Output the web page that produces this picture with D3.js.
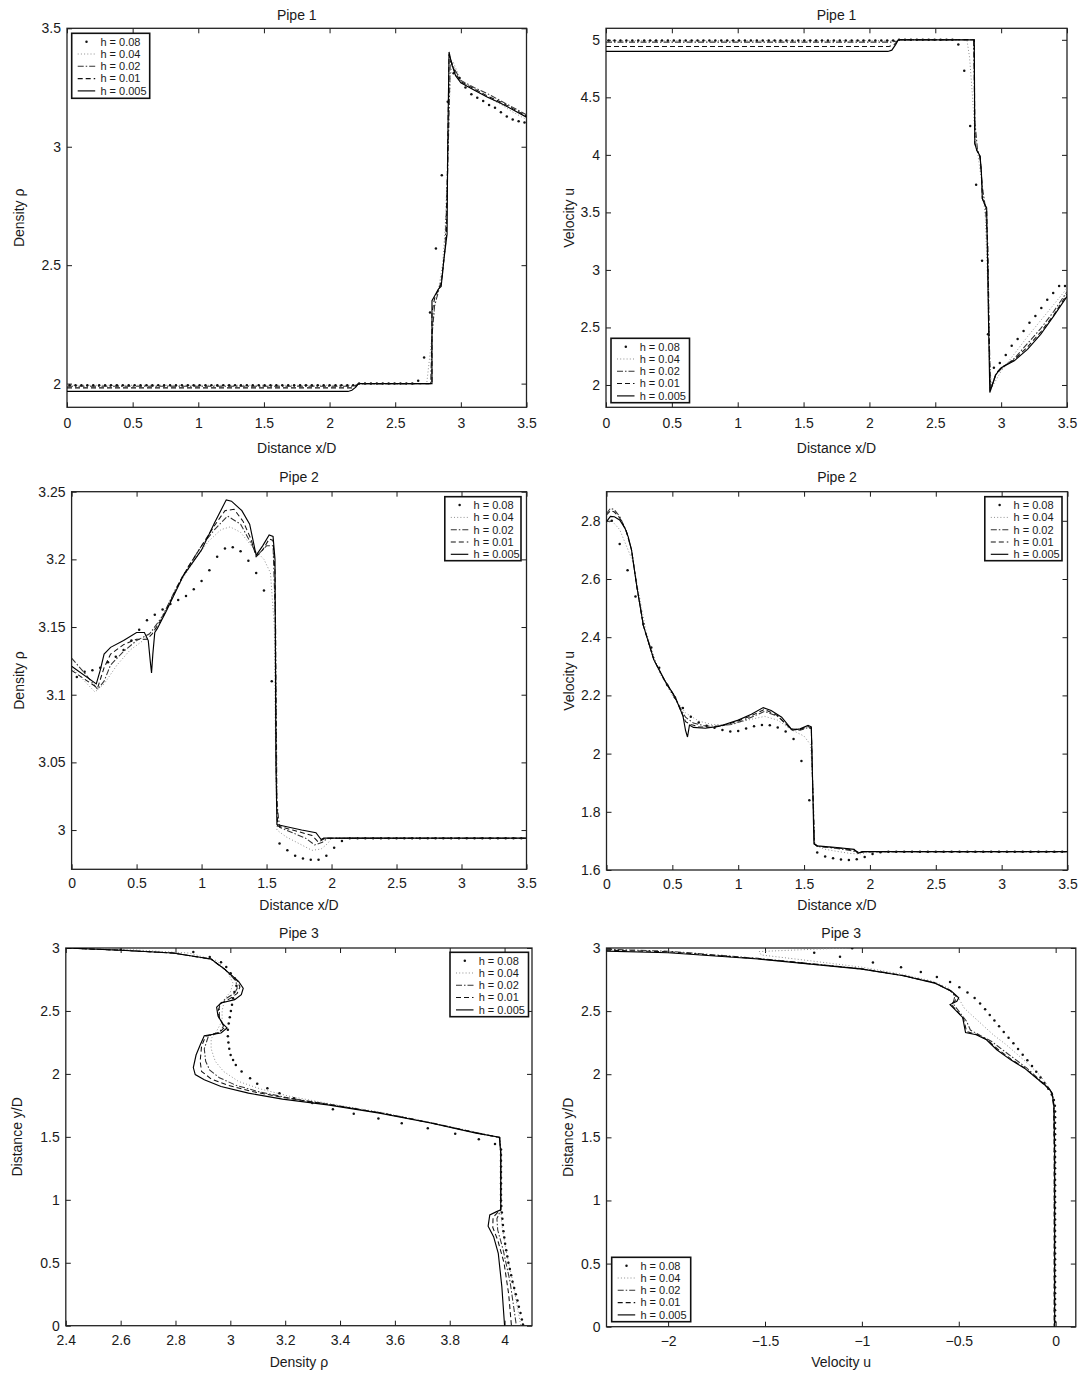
<!DOCTYPE html>
<html>
<head>
<meta charset="utf-8">
<script src="https://cdn.jsdelivr.net/npm/d3@7"></script>
<style>
body{margin:0;background:#fff}
svg text{font-family:"Liberation Sans",Arial,Helvetica,sans-serif}
</style>
</head>
<body>
<svg id="chart" width="1079" height="1373"></svg>
<script>

let legendLabels = ['h = 0.08', 'h = 0.04', 'h = 0.02', 'h = 0.01', 'h = 0.005']

let distTicks = [0, 0.5, 1, 1.5, 2, 2.5, 3, 3.5]
let p1RhoTicks = [2, 2.5, 3, 3.5]
let p1VelTicks = [2, 2.5, 3, 3.5, 4, 4.5, 5]
let p2RhoTicks = [3, 3.05, 3.1, 3.15, 3.2, 3.25]
let p2VelTicks = [1.6, 1.8, 2, 2.2, 2.4, 2.6, 2.8]
let p3DistTicks = [0, 0.5, 1, 1.5, 2, 2.5, 3]
let p3RhoTicks = [2.4, 2.6, 2.8, 3, 3.2, 3.4, 3.6, 3.8, 4]
let p3VelTicks = [-2, -1.5, -1, -0.5, 0]

// pipe 1, h = 0.08 markers
let pipe1DotX = [0.02,0.065,0.11,0.155,0.2,0.245,0.29,0.335,0.38,0.425,
	0.47,0.515,0.56,0.605,0.65,0.695,0.74,0.785,0.83,0.875,
	0.92,0.965,1.01,1.055,1.1,1.145,1.19,1.235,1.28,1.325,
	1.37,1.415,1.46,1.505,1.55,1.595,1.64,1.685,1.73,1.775,
	1.82,1.865,1.91,1.955,2.0,2.045,2.09,2.135,2.18,
	2.225,2.27,2.315,2.36,2.405,2.45,2.495,2.54,2.585,2.63,
	2.675,2.72,2.765,2.81,2.855,2.9,2.945,2.99,3.035,3.08,3.125,3.17,3.215,3.26,3.305,3.35,3.395,3.44,3.485]
let pipe1RhoDots = [1.993,1.993,1.993,1.993,1.993,1.993,1.993,1.993,1.993,1.993,
	1.993,1.993,1.993,1.993,1.993,1.993,1.993,1.993,1.993,1.993,
	1.993,1.993,1.993,1.993,1.993,1.993,1.993,1.993,1.993,1.993,
	1.993,1.993,1.993,1.993,1.993,1.993,1.993,1.993,1.993,1.993,
	1.993,1.993,1.993,1.993,1.993,1.993,1.993,1.993,1.993,
	2.0,2.0,2.0,2.0,2.0,2.0,2.0,2.0,2.0,2.0,
	2.012,2.11,2.3,2.57,2.88,3.19,3.31,3.29,3.25,3.222,3.207,3.193,3.176,3.165,3.146,3.128,3.115,3.108,3.102]
let pipe1VelDots = [4.993,4.993,4.993,4.993,4.993,4.993,4.993,4.993,4.993,4.993,
	4.993,4.993,4.993,4.993,4.993,4.993,4.993,4.993,4.993,4.993,
	4.993,4.993,4.993,4.993,4.993,4.993,4.993,4.993,4.993,4.993,
	4.993,4.993,4.993,4.993,4.993,4.993,4.993,4.993,4.993,4.993,
	4.993,4.993,4.993,4.993,4.993,4.993,4.993,4.993,4.993,
	5.0,5.0,5.0,5.0,5.0,5.0,5.0,5.0,5.0,5.0,
	4.96,4.73,4.25,3.74,3.08,2.44,2.15,2.19,2.26,2.34,2.4,2.47,2.54,2.6,2.67,2.74,2.8,2.86,2.86]

let p1RhoH04 = [[0,1.993],[2.2,1.993],[2.24,2.0],[2.74,2.0],[2.76,2.1],[2.78,2.2],[2.8,2.32],[2.83,2.4],[2.86,2.5],[2.88,2.65],[2.9,2.95],[2.92,3.3],[2.94,3.36],[2.97,3.32],[3.0,3.28],[3.1,3.24],[3.2,3.21],[3.3,3.18],[3.4,3.145],[3.5,3.115]]
let p1RhoH02 = [[0,1.989],[2.18,1.989],[2.21,1.995],[2.23,2.0],[2.77,2.0],[2.78,2.2],[2.8,2.33],[2.83,2.39],[2.86,2.46],[2.88,2.58],[2.9,2.9],[2.92,3.37],[2.95,3.33],[3.0,3.28],[3.1,3.25],[3.2,3.225],[3.3,3.195],[3.4,3.165],[3.5,3.135]]
let p1RhoH01 = [[0,1.982],[2.17,1.982],[2.2,1.99],[2.22,2.0],[2.78,2.0],[2.78,2.3],[2.8,2.36],[2.83,2.4],[2.85,2.42],[2.87,2.52],[2.89,2.62],[2.9,3.0],[2.91,3.39],[2.93,3.35],[2.96,3.31],[3.0,3.275],[3.1,3.245],[3.2,3.215],[3.3,3.19],[3.4,3.16],[3.5,3.13]]
let p1RhoH005 = [[0,1.967],[2.14,1.967],[2.17,1.972],[2.2,1.985],[2.22,2.0],[2.78,2.0],[2.78,2.35],[2.8,2.37],[2.83,2.4],[2.85,2.41],[2.87,2.52],[2.89,2.61],[2.895,2.63],[2.9,3.0],[2.91,3.4],[2.93,3.35],[2.96,3.3],[3.0,3.27],[3.1,3.24],[3.2,3.21],[3.3,3.185],[3.4,3.155],[3.5,3.125]]

let p1VelH04 = [[0,4.993],[2.2,4.993],[2.24,5.0],[2.74,5.0],[2.76,4.85],[2.78,4.55],[2.8,4.2],[2.83,3.95],[2.86,3.7],[2.88,3.45],[2.9,2.8],[2.91,2.2],[2.93,1.98],[3.0,2.12],[3.1,2.27],[3.2,2.42],[3.3,2.56],[3.4,2.7],[3.5,2.84]]
let p1VelH02 = [[0,4.98],[2.17,4.98],[2.21,4.99],[2.23,5.0],[2.79,5.0],[2.8,4.3],[2.82,4.05],[2.84,3.97],[2.86,3.7],[2.88,3.55],[2.9,3.2],[2.91,2.4],[2.92,1.97],[2.96,2.09],[3.0,2.14],[3.1,2.23],[3.2,2.36],[3.3,2.49],[3.4,2.64],[3.5,2.81]]
let p1VelH01 = [[0,4.942],[2.15,4.942],[2.19,4.96],[2.22,5.0],[2.796,5.0],[2.8,4.1],[2.815,4.04],[2.84,3.99],[2.85,3.85],[2.857,3.62],[2.875,3.57],[2.89,3.53],[2.9,3.0],[2.91,2.3],[2.918,1.95],[2.96,2.1],[3.0,2.15],[3.1,2.22],[3.2,2.33],[3.3,2.46],[3.4,2.61],[3.5,2.79]]
let p1VelH005 = [[0,4.899],[2.14,4.899],[2.17,4.91],[2.2,4.96],[2.22,5.0],[2.796,5.0],[2.8,4.1],[2.815,4.04],[2.84,3.99],[2.85,3.85],[2.857,3.62],[2.875,3.57],[2.89,3.54],[2.895,3.2],[2.905,2.5],[2.914,1.935],[2.96,2.09],[3.0,2.15],[3.1,2.21],[3.2,2.31],[3.3,2.44],[3.4,2.6],[3.5,2.77]]

// pipe 2, h = 0.08 markers
let pipe2DotX = [0.04,0.1,0.16,0.22,0.28,0.34,0.4,0.46,0.52,0.58,
	0.64,0.7,0.76,0.82,0.88,0.94,1,1.06,1.12,1.18,
	1.24,1.3,1.36,1.42,1.48,1.54,1.6,1.66,1.72,1.78,
	1.84,1.9,1.96,2.02,2.08,
	2.14,2.2,2.26,2.32,2.38,2.44,2.5,2.56,2.62,2.68,
	2.74,2.8,2.86,2.92,2.98,3.04,3.1,3.16,3.22,3.28,
	3.34,3.4,3.46]
let pipe2RhoDots = [3.113,3.117,3.118,3.12,3.124,3.128,3.133,3.14,3.148,3.155,
	3.159,3.163,3.167,3.17,3.173,3.178,3.184,3.192,3.202,3.208,
	3.209,3.206,3.199,3.19,3.177,3.11,2.99,2.985,2.981,2.979,
	2.978,2.978,2.981,2.987,2.992,
	2.994,2.994,2.994,2.994,2.994,2.994,2.994,2.994,2.994,2.994,
	2.994,2.994,2.994,2.994,2.994,2.994,2.994,2.994,2.994,2.994,
	2.994,2.994,2.994]
let pipe2VelDots = [2.8,2.72,2.63,2.54,2.445,2.365,2.295,2.237,2.193,2.157,
	2.127,2.107,2.096,2.089,2.081,2.076,2.078,2.086,2.094,2.098,
	2.097,2.09,2.076,2.05,1.975,1.84,1.66,1.646,1.64,1.636,
	1.634,1.637,1.645,1.655,1.661,
	1.663,1.663,1.663,1.663,1.663,1.663,1.663,1.663,1.663,1.663,
	1.663,1.663,1.663,1.663,1.663,1.663,1.663,1.663,1.663,1.663,
	1.663,1.663,1.663]

let p2RhoH04 = [[0,3.12],[0.1,3.11],[0.18,3.102],[0.25,3.108],[0.35,3.122],[0.45,3.133],[0.55,3.14],[0.65,3.15],[0.75,3.168],[0.85,3.185],[0.95,3.2],[1.05,3.213],[1.15,3.222],[1.22,3.224],[1.3,3.22],[1.4,3.208],[1.48,3.2],[1.53,3.19],[1.56,3.15],[1.57,3.05],[1.58,3.0],[1.65,2.995],[1.75,2.99],[1.85,2.985],[1.92,2.986],[1.97,2.99],[2.0,2.994],[3.5,2.994]]
let p2RhoH02 = [[0,3.127],[0.1,3.116],[0.2,3.104],[0.25,3.11],[0.3,3.122],[0.4,3.132],[0.5,3.14],[0.6,3.145],[0.7,3.158],[0.8,3.178],[0.9,3.195],[1.0,3.21],[1.1,3.222],[1.2,3.232],[1.3,3.226],[1.38,3.212],[1.43,3.203],[1.5,3.21],[1.55,3.21],[1.57,3.15],[1.58,3.02],[1.6,3.002],[1.7,2.998],[1.8,2.994],[1.87,2.989],[1.93,2.991],[1.97,2.994],[3.5,2.994]]
let p2RhoH01 = [[0,3.118],[0.2,3.105],[0.25,3.12],[0.3,3.13],[0.4,3.137],[0.5,3.141],[0.58,3.141],[0.62,3.145],[0.7,3.157],[0.85,3.187],[1.0,3.21],[1.1,3.225],[1.18,3.236],[1.25,3.237],[1.32,3.228],[1.38,3.215],[1.42,3.202],[1.47,3.207],[1.52,3.215],[1.55,3.214],[1.565,3.19],[1.575,3.04],[1.585,3.003],[1.7,3.0],[1.85,2.996],[1.9,2.991],[1.95,2.994],[3.5,2.994]]
let p2RhoH005 = [[0,3.121],[0.19,3.108],[0.22,3.118],[0.25,3.13],[0.3,3.135],[0.4,3.14],[0.5,3.146],[0.56,3.146],[0.59,3.14],[0.605,3.125],[0.615,3.116],[0.625,3.13],[0.64,3.146],[0.66,3.149],[0.73,3.162],[0.86,3.188],[1.0,3.207],[1.1,3.227],[1.19,3.244],[1.23,3.243],[1.31,3.236],[1.37,3.226],[1.42,3.203],[1.47,3.21],[1.52,3.218],[1.55,3.217],[1.565,3.2],[1.572,3.05],[1.58,3.004],[1.63,3.003],[1.77,3.0],[1.88,2.998],[1.92,2.993],[1.94,2.994],[3.5,2.994]]

let p2VelH04 = [[0,2.79],[0.04,2.8],[0.1,2.77],[0.2,2.66],[0.3,2.42],[0.4,2.28],[0.5,2.2],[0.6,2.14],[0.7,2.112],[0.8,2.1],[0.9,2.1],[1.0,2.107],[1.1,2.118],[1.2,2.128],[1.3,2.115],[1.4,2.083],[1.5,2.06],[1.55,2.03],[1.57,1.85],[1.58,1.69],[1.65,1.672],[1.75,1.664],[1.85,1.657],[1.92,1.655],[1.98,1.66],[2.05,1.663],[3.5,1.663]]
let p2VelH02 = [[0,2.825],[0.03,2.843],[0.06,2.838],[0.1,2.815],[0.15,2.765],[0.19,2.7],[0.23,2.575],[0.28,2.44],[0.36,2.322],[0.44,2.253],[0.52,2.19],[0.6,2.125],[0.66,2.105],[0.75,2.095],[0.85,2.095],[0.95,2.1],[1.05,2.115],[1.2,2.145],[1.3,2.128],[1.4,2.085],[1.47,2.08],[1.53,2.09],[1.555,2.085],[1.565,1.9],[1.58,1.69],[1.6,1.681],[1.75,1.674],[1.85,1.667],[1.92,1.66],[1.97,1.663],[3.5,1.663]]
let p2VelH01 = [[0,2.82],[0.03,2.835],[0.06,2.83],[0.1,2.81],[0.15,2.765],[0.19,2.7],[0.23,2.575],[0.28,2.44],[0.36,2.322],[0.44,2.253],[0.52,2.195],[0.6,2.11],[0.64,2.1],[0.7,2.092],[0.8,2.09],[0.9,2.098],[1.0,2.112],[1.1,2.13],[1.2,2.152],[1.3,2.13],[1.4,2.085],[1.47,2.083],[1.53,2.093],[1.555,2.088],[1.565,1.9],[1.578,1.69],[1.6,1.682],[1.75,1.676],[1.88,1.669],[1.92,1.659],[1.96,1.663],[3.5,1.663]]
let p2VelH005 = [[0,2.797],[0.03,2.815],[0.06,2.814],[0.1,2.803],[0.14,2.775],[0.165,2.745],[0.19,2.7],[0.23,2.575],[0.28,2.44],[0.36,2.322],[0.44,2.253],[0.52,2.195],[0.58,2.13],[0.6,2.08],[0.615,2.057],[0.63,2.098],[0.66,2.09],[0.75,2.087],[0.85,2.093],[1.0,2.115],[1.1,2.135],[1.19,2.158],[1.25,2.148],[1.33,2.125],[1.41,2.081],[1.47,2.085],[1.53,2.097],[1.555,2.092],[1.565,1.9],[1.575,1.69],[1.6,1.683],[1.73,1.678],[1.88,1.671],[1.91,1.657],[1.94,1.663],[3.5,1.663]]

// pipe 3: pairs are [value, y/D]
let p3RhoH08 = [[2.6,2.987],[2.865,2.968],[2.925,2.928],[2.966,2.886],[2.985,2.849],[3.001,2.8],[3.016,2.76],[3.022,2.7],[3.015,2.65],[3.01,2.6],[3.006,2.55],[3.002,2.5],[2.998,2.45],[2.994,2.4],[2.991,2.35],[2.991,2.3],[2.993,2.25],[2.996,2.2],[3.001,2.15],[3.01,2.11],[3.02,2.07],[3.041,2.02],[3.072,1.966],[3.098,1.921],[3.135,1.887],[3.179,1.847],[3.232,1.807],[3.299,1.768],[3.374,1.72],[3.45,1.683],[3.54,1.645],[3.625,1.609],[3.72,1.569],[3.82,1.524],[3.906,1.481],[3.965,1.444],
	[3.987,1.4],[3.987,1.355],[3.987,1.31],[3.987,1.265],[3.987,1.22],[3.987,1.175],[3.987,1.13],[3.987,1.085],[3.987,1.04],[3.987,0.995],[3.988,0.95],
	[3.99,0.9],[3.992,0.85],[3.994,0.8],[3.996,0.75],[3.999,0.7],[4.002,0.65],[4.006,0.6],[4.01,0.55],[4.014,0.5],[4.019,0.45],[4.024,0.4],[4.029,0.35],[4.035,0.3],[4.041,0.25],[4.047,0.2],[4.052,0.15],[4.058,0.1],[4.063,0.05],[4.067,0.01]]
let p3RhoH04 = [[2.4,3.0],[2.65,2.985],[2.85,2.96],[2.95,2.9],[2.99,2.81],[3.01,2.72],[3.0,2.65],[2.98,2.6],[2.97,2.5],[2.97,2.42],[2.95,2.34],[2.93,2.28],[2.93,2.2],[2.945,2.1],[2.975,2.02],[3.03,1.94],[3.11,1.88],[3.22,1.82],[3.37,1.76],[3.55,1.695],[3.73,1.615],[3.9,1.535],[3.984,1.49],[3.987,1.37],[3.987,0.9],[3.99,0.8],[4.005,0.6],[4.03,0.35],[4.059,0]]
let p3RhoH02 = [[2.4,3.0],[2.6,2.983],[2.79,2.961],[2.93,2.91],[2.98,2.83],[3.02,2.74],[3.025,2.68],[3.015,2.64],[2.985,2.6],[2.96,2.55],[2.96,2.45],[2.975,2.38],[2.96,2.33],[2.92,2.3],[2.905,2.2],[2.91,2.1],[2.925,2.03],[2.96,1.97],[3.02,1.91],[3.1,1.86],[3.21,1.81],[3.36,1.758],[3.55,1.69],[3.73,1.612],[3.9,1.532],[3.983,1.495],[3.986,1.37],[3.986,0.92],[3.98,0.89],[3.972,0.85],[3.975,0.76],[3.995,0.6],[4.02,0.35],[4.043,0]]
let p3RhoH01 = [[2.4,3.0],[2.6,2.982],[2.79,2.96],[2.93,2.912],[2.98,2.83],[3.025,2.74],[3.035,2.69],[3.025,2.64],[3.0,2.6],[2.965,2.56],[2.955,2.5],[2.96,2.44],[2.98,2.37],[2.96,2.33],[2.91,2.3],[2.895,2.22],[2.89,2.1],[2.895,2.02],[2.93,1.96],[2.99,1.91],[3.08,1.86],[3.2,1.81],[3.36,1.757],[3.55,1.69],[3.73,1.612],[3.9,1.53],[3.982,1.495],[3.986,1.37],[3.986,0.92],[3.975,0.9],[3.958,0.86],[3.957,0.78],[3.975,0.68],[3.998,0.5],[4.015,0.25],[4.025,0]]
let p3RhoH005 = [[2.4,3.0],[2.6,2.982],[2.79,2.96],[2.93,2.913],[2.98,2.83],[3.03,2.735],[3.047,2.68],[3.04,2.63],[3.016,2.59],[2.966,2.563],[2.95,2.53],[2.955,2.46],[2.972,2.4],[2.988,2.365],[2.966,2.325],[2.905,2.303],[2.89,2.23],[2.875,2.15],[2.865,2.05],[2.872,1.995],[2.905,1.953],[2.966,1.9],[3.066,1.847],[3.19,1.8],[3.355,1.754],[3.544,1.688],[3.73,1.61],[3.896,1.53],[3.981,1.497],[3.986,1.37],[3.986,0.92],[3.971,0.906],[3.946,0.88],[3.94,0.79],[3.96,0.707],[3.977,0.575],[3.99,0.31],[4.0,0]]

let p3VelH08 = [[-1.05,2.998],[-1.246,2.963],[-1.113,2.93],[-0.943,2.886],[-0.798,2.847],[-0.696,2.81],[-0.613,2.77],[-0.545,2.73],[-0.497,2.69],[-0.455,2.648],[-0.418,2.603],[-0.39,2.56],[-0.364,2.515],[-0.34,2.47],[-0.316,2.425],[-0.292,2.38],[-0.268,2.335],[-0.243,2.29],[-0.218,2.245],[-0.194,2.2],[-0.17,2.155],[-0.146,2.11],[-0.122,2.065],[-0.1,2.02],[-0.078,1.975],[-0.058,1.93],[-0.038,1.885],[-0.02,1.84],[-0.009,1.795],[-0.004,1.75],
	[-0.003,1.705],[-0.003,1.66],[-0.003,1.615],[-0.003,1.57],[-0.003,1.525],[-0.003,1.48],[-0.003,1.435],[-0.003,1.39],[-0.003,1.345],[-0.003,1.3],
	[-0.003,1.255],[-0.003,1.21],[-0.003,1.165],[-0.003,1.12],[-0.003,1.075],[-0.003,1.03],[-0.003,0.985],[-0.003,0.94],[-0.003,0.895],[-0.003,0.85],
	[-0.003,0.805],[-0.003,0.76],[-0.003,0.715],[-0.003,0.67],[-0.003,0.625],[-0.003,0.58],[-0.003,0.535],[-0.003,0.49],[-0.003,0.445],[-0.003,0.4],
	[-0.003,0.355],[-0.003,0.31],[-0.003,0.265],[-0.003,0.22],[-0.003,0.175],[-0.003,0.13],[-0.003,0.085],[-0.003,0.04]]
let p3VelH04 = [[-1.08,3.0],[-1.25,2.99],[-1.53,2.972],[-1.52,2.945],[-1.3,2.905],[-1.0,2.848],[-0.786,2.79],[-0.63,2.735],[-0.55,2.68],[-0.5,2.6],[-0.47,2.52],[-0.42,2.45],[-0.37,2.38],[-0.32,2.31],[-0.26,2.24],[-0.2,2.16],[-0.14,2.08],[-0.08,1.99],[-0.04,1.91],[-0.015,1.84],[-0.006,1.74],[-0.004,1.37],[-0.004,0]]
let p3VelH02 = [[-2.32,2.99],[-2.0,2.975],[-1.536,2.918],[-1.0,2.836],[-0.786,2.782],[-0.625,2.726],[-0.545,2.665],[-0.52,2.62],[-0.525,2.59],[-0.53,2.56],[-0.5,2.5],[-0.46,2.42],[-0.44,2.35],[-0.38,2.3],[-0.33,2.26],[-0.28,2.2],[-0.21,2.12],[-0.15,2.05],[-0.085,1.96],[-0.035,1.89],[-0.015,1.84],[-0.008,1.74],[-0.006,1.37],[-0.006,0]]
let p3VelH01 = [[-2.32,2.983],[-2.0,2.97],[-1.536,2.915],[-1.0,2.834],[-0.786,2.781],[-0.625,2.724],[-0.54,2.66],[-0.51,2.61],[-0.52,2.58],[-0.54,2.555],[-0.52,2.52],[-0.475,2.44],[-0.46,2.34],[-0.4,2.31],[-0.35,2.27],[-0.3,2.2],[-0.23,2.12],[-0.16,2.05],[-0.09,1.96],[-0.04,1.89],[-0.02,1.85],[-0.01,1.74],[-0.008,1.37],[-0.008,0]]
let p3VelH005 = [[-2.32,2.975],[-2.0,2.962],[-1.536,2.913],[-1.0,2.833],[-0.786,2.78],[-0.625,2.722],[-0.536,2.656],[-0.5,2.605],[-0.51,2.578],[-0.545,2.552],[-0.527,2.524],[-0.48,2.45],[-0.465,2.33],[-0.41,2.313],[-0.357,2.273],[-0.304,2.194],[-0.232,2.114],[-0.161,2.048],[-0.089,1.956],[-0.036,1.89],[-0.018,1.85],[-0.009,1.744],[-0.005,1.374],[-0.005,0]]

let panels = [
	{title: 'Pipe 1', xLabel: 'Distance x/D', yLabel: 'Density \u03c1', xDomain: [0, 3.5], yDomain: [1.9, 3.5],
		xTicks: distTicks, yTicks: p1RhoTicks, dots: d3.zip(pipe1DotX, pipe1RhoDots), lines: [p1RhoH04, p1RhoH02, p1RhoH01, p1RhoH005]},
	{title: 'Pipe 1', xLabel: 'Distance x/D', yLabel: 'Velocity u', xDomain: [0, 3.5], yDomain: [1.806, 5.1],
		xTicks: distTicks, yTicks: p1VelTicks, dots: d3.zip(pipe1DotX, pipe1VelDots), lines: [p1VelH04, p1VelH02, p1VelH01, p1VelH005]},
	{title: 'Pipe 2', xLabel: 'Distance x/D', yLabel: 'Density \u03c1', xDomain: [0, 3.5], yDomain: [2.971, 3.25],
		xTicks: distTicks, yTicks: p2RhoTicks, dots: d3.zip(pipe2DotX, pipe2RhoDots), lines: [p2RhoH04, p2RhoH02, p2RhoH01, p2RhoH005]},
	{title: 'Pipe 2', xLabel: 'Distance x/D', yLabel: 'Velocity u', xDomain: [0, 3.5], yDomain: [1.6, 2.9],
		xTicks: distTicks, yTicks: p2VelTicks, dots: d3.zip(pipe2DotX, pipe2VelDots), lines: [p2VelH04, p2VelH02, p2VelH01, p2VelH005]},
	{title: 'Pipe 3', xLabel: 'Density \u03c1', yLabel: 'Distance y/D', xDomain: [2.4, 4.1], yDomain: [0, 3],
		xTicks: p3RhoTicks, yTicks: p3DistTicks, dots: p3RhoH08, lines: [p3RhoH04, p3RhoH02, p3RhoH01, p3RhoH005]},
	{title: 'Pipe 3', xLabel: 'Velocity u', yLabel: 'Distance y/D', xDomain: [-2.318, 0.104], yDomain: [0, 3],
		xTicks: p3VelTicks, yTicks: p3DistTicks, dots: p3VelH08, lines: [p3VelH04, p3VelH02, p3VelH01, p3VelH005]}
]

// frame boxes, label rows and legend boxes in pixels
let layout = [
	{left: 67, right: 526.5, top: 28.3, bottom: 407.3, titleY: 15, tickY: 11, xLabelY: 448, yLabelX: 19, legend: [71.7, 33.3, 78, 65]},
	{left: 606, right: 1067, top: 28.3, bottom: 407.3, titleY: 15, tickY: 11, xLabelY: 448, yLabelX: 569, legend: [611, 338.3, 78.5, 64.4]},
	{left: 71.6, right: 526.5, top: 491.7, bottom: 869.3, titleY: 477.3, tickY: 9, xLabelY: 905, yLabelX: 19, legend: [444.8, 496.7, 76.2, 64]},
	{left: 606.5, right: 1067.5, top: 491.7, bottom: 870, titleY: 477.3, tickY: 9, xLabelY: 905, yLabelX: 569, legend: [984.8, 496.7, 77.2, 64]},
	{left: 65.8, right: 532, top: 948, bottom: 1325.7, titleY: 933.3, tickY: 9, xLabelY: 1361.7, yLabelX: 17, legend: [450, 952.3, 78.5, 64.4]},
	{left: 606.5, right: 1075.8, top: 948, bottom: 1326.7, titleY: 933.3, tickY: 9, xLabelY: 1361.7, yLabelX: 568, legend: [611.7, 1257.3, 79, 64.4]}
]

let lineStyles = [
	{stroke: '#8f8f8f', dash: '1,2.2', width: 1},
	{stroke: '#333', dash: '6,2,1.5,2', width: 1.05},
	{stroke: '#111', dash: '5,3', width: 1.05},
	{stroke: '#000', dash: null, width: 1.15}
]

const svg = d3.select('#chart')
const font = '"Liberation Sans", Arial, Helvetica, sans-serif'
const fmt = d => String(d).replace('-', '\u2212')

panels.forEach((p, i) => {
	let L = layout[i]

	let x = d3.scaleLinear().domain(p.xDomain).range([L.left, L.right])
	let y = d3.scaleLinear().domain(p.yDomain).range([L.bottom, L.top])

	let g = svg.append('g')

	g.append('clipPath').attr('id', 'clip' + i)
		.append('rect')
		.attr('x', L.left).attr('y', L.top)
		.attr('width', L.right - L.left).attr('height', L.bottom - L.top)

	let axes = g.append('g').attr('color', '#1a1a1a')

	axes.append('g').attr('transform', `translate(0,${L.bottom})`)
		.call(d3.axisBottom(x).tickValues(p.xTicks).tickFormat(fmt).tickSizeInner(-5).tickSizeOuter(0).tickPadding(L.tickY))
	axes.append('g').attr('transform', `translate(0,${L.top})`)
		.call(d3.axisTop(x).tickValues(p.xTicks).tickFormat('').tickSizeInner(-5).tickSizeOuter(0))
	axes.append('g').attr('transform', `translate(${L.left},0)`)
		.call(d3.axisLeft(y).tickValues(p.yTicks).tickFormat(fmt).tickSizeInner(-5).tickSizeOuter(0).tickPadding(6))
	axes.append('g').attr('transform', `translate(${L.right},0)`)
		.call(d3.axisRight(y).tickValues(p.yTicks).tickFormat('').tickSizeInner(-5).tickSizeOuter(0))

	axes.selectAll('.domain').remove()
	axes.selectAll('g').attr('font-size', 14).attr('font-family', font)
	axes.selectAll('line').attr('stroke-width', 1)

	g.append('rect')
		.attr('x', L.left).attr('y', L.top)
		.attr('width', L.right - L.left).attr('height', L.bottom - L.top)
		.attr('fill', 'none').attr('stroke', '#222').attr('stroke-width', 1.3)

	let plot = g.append('g').attr('clip-path', `url(#clip${i})`)

	let line = d3.line().x(d => x(d[0])).y(d => y(d[1]))

	p.lines.forEach((s, k) => {
		let st = lineStyles[k]
		plot.append('path')
			.datum(s)
			.attr('d', line)
			.attr('fill', 'none')
			.attr('stroke', st.stroke)
			.attr('stroke-width', st.width)
			.attr('stroke-dasharray', st.dash)
	})

	plot.selectAll('.dot')
		.data(p.dots)
		.enter()
		.append('circle')
		.attr('cx', d => x(d[0]))
		.attr('cy', d => y(d[1]))
		.attr('r', 1.25)
		.attr('fill', '#111')

	// titles
	g.append('text')
		.attr('x', (L.left + L.right) / 2).attr('y', L.titleY).attr('dy', '0.35em')
		.attr('text-anchor', 'middle').attr('font-size', 14).attr('fill', '#1a1a1a')
		.text(p.title)
	g.append('text')
		.attr('x', (L.left + L.right) / 2).attr('y', L.xLabelY).attr('dy', '0.35em')
		.attr('text-anchor', 'middle').attr('font-size', 14).attr('fill', '#1a1a1a')
		.text(p.xLabel)
	g.append('text')
		.attr('transform', `translate(${L.yLabelX},${(L.top + L.bottom) / 2}) rotate(-90)`)
		.attr('dy', '0.35em')
		.attr('text-anchor', 'middle').attr('font-size', 14).attr('fill', '#1a1a1a')
		.text(p.yLabel)

	// legend
	let [lx, ly, lw, lh] = L.legend
	let leg = g.append('g').attr('transform', `translate(${lx},${ly})`)
	leg.append('rect')
		.attr('width', lw).attr('height', lh)
		.attr('fill', '#fff').attr('stroke', '#111').attr('stroke-width', 1.6)

	legendLabels.forEach((lab, k) => {
		let ry = 8.4 + k * 12.3
		if (k === 0) {
			leg.append('circle').attr('cx', 14.8).attr('cy', ry).attr('r', 1.25).attr('fill', '#111')
		} else {
			let st = lineStyles[k - 1]
			leg.append('line')
				.attr('x1', 6).attr('x2', 23.5).attr('y1', ry).attr('y2', ry)
				.attr('stroke', st.stroke).attr('stroke-width', st.width)
				.attr('stroke-dasharray', st.dash)
		}
		leg.append('text')
			.attr('x', 28.7).attr('y', ry).attr('dy', '0.35em')
			.attr('font-size', 11).attr('fill', '#1a1a1a')
			.text(lab)
	})
})

</script>
</body>
</html>
